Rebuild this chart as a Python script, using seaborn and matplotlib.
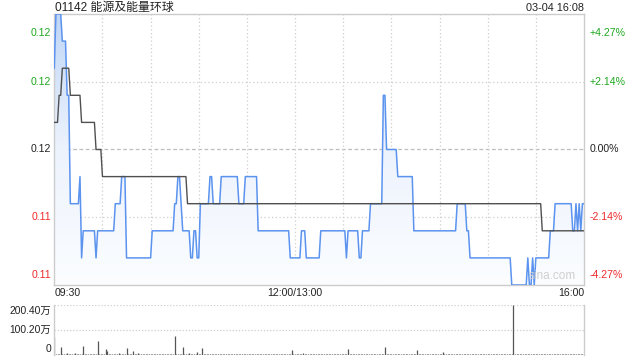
import numpy as np
import pandas as pd
import matplotlib
matplotlib.use("Agg")
import matplotlib.pyplot as plt
from matplotlib.colors import LinearSegmentedColormap
import seaborn as sns

# ---------------- data ----------------
title = "01142 能源及能量环球"
stamp = "03-04 16:08"
prev_close = 0.117
price_ticks = [0.122, 0.1195, 0.117, 0.1145, 0.112]
price_labels = ["0.12", "0.12", "0.12", "0.11", "0.11"]
pct_labels = ["+4.27%", "+2.14%", "0.00%", "-2.14%", "-4.27%"]
time_labels = ["09:30", "12:00/13:00", "16:00"]
time_label_pos = [0, 150, 330]

# last price per minute, run-length form: (price, number of minutes)
price_levels = [0.120, 0.122, 0.121, 0.119, 0.115, 0.116, 0.113, 0.114, 0.113, 0.114,
                0.115, 0.116, 0.113, 0.114, 0.115, 0.116, 0.115, 0.114, 0.113, 0.114,
                0.113, 0.115, 0.116, 0.115, 0.116, 0.115, 0.116, 0.114, 0.113, 0.114,
                0.113, 0.114, 0.113, 0.114, 0.113, 0.114, 0.115, 0.119, 0.117, 0.116,
                0.114, 0.115, 0.114, 0.113, 0.112, 0.113, 0.112, 0.113, 0.112, 0.113,
                0.114, 0.115, 0.114, 0.115, 0.114, 0.115, 0.114, 0.115]
price_runs = [1, 4, 3, 2, 6, 1, 1, 8, 1, 11,
              4, 3, 16, 14, 2, 2, 1, 5, 2, 2,
              2, 6, 2, 5, 11, 4, 8, 20, 7, 3,
              9, 16, 1, 7, 2, 5, 8, 2, 7, 10,
              27, 6, 2, 26, 10, 1, 2, 1, 1, 9,
              3, 11, 2, 1, 1, 1, 1, 2]

# average price per minute, run-length form
avg_levels = [0.118, 0.119, 0.120, 0.119, 0.118, 0.117, 0.116, 0.115, 0.114]
avg_runs = [3, 2, 5, 7, 9, 4, 53, 221, 27]

# volume per minute (万股)
volume = [73, 5, 4, 6, 33, 4, 5, 4, 9, 5,
          4, 5, 4, 7, 5, 4, 3, 5, 37, 6,
          5, 4, 5, 4, 6, 5, 4, 57, 5, 6,
          4, 5, 23, 18, 6, 5, 4, 5, 4, 5,
          8, 4, 5, 4, 6, 28, 5, 4, 5, 17,
          5, 4, 8, 5, 4, 3, 5, 4, 5, 4,
          4, 5, 4, 3, 4, 5, 4, 4, 3, 5,
          4, 5, 4, 6, 5, 78, 5, 4, 6, 5,
          33, 5, 4, 6, 10, 5, 4, 5, 6, 12,
          5, 4, 29, 5, 4, 5, 4, 3, 4, 4,
          4, 3, 4, 4, 3, 4, 4, 3, 4, 3,
          4, 4, 3, 4, 3, 4, 4, 3, 4, 4,
          3, 4, 4, 3, 4, 4, 3, 4, 4, 3,
          4, 3, 4, 4, 3, 4, 4, 3, 4, 4,
          3, 4, 4, 3, 4, 5, 4, 4, 20, 4,
          3, 4, 4, 3, 4, 8, 4, 3, 4, 4,
          4, 3, 4, 4, 3, 4, 4, 3, 4, 4,
          3, 4, 4, 3, 4, 4, 3, 4, 4, 3,
          4, 4, 3, 23, 4, 3, 4, 4, 3, 4,
          4, 3, 4, 4, 3, 4, 4, 3, 4, 4,
          3, 4, 4, 3, 4, 5, 33, 4, 4, 3,
          4, 4, 3, 4, 4, 3, 4, 4, 3, 4,
          4, 3, 4, 4, 3, 4, 20, 4, 3, 4,
          4, 3, 4, 4, 3, 4, 4, 3, 4, 4,
          3, 4, 12, 4, 3, 4, 4, 3, 4, 4,
          3, 4, 4, 3, 4, 4, 3, 4, 4, 3,
          4, 4, 3, 4, 4, 3, 4, 4, 3, 4,
          4, 3, 4, 4, 3, 4, 4, 3, 4, 4,
          3, 4, 4, 3, 4, 4, 200.4, 4, 3, 4,
          4, 3, 4, 4, 3, 4, 4, 3, 4, 4,
          3, 4, 4, 3, 4, 4, 3, 4, 4, 3,
          4, 4, 3, 4, 4, 3, 4, 4, 3, 4,
          4, 3, 4, 4, 3, 4, 4, 3, 4, 4,
          5]
vol_ticks = [200.4, 100.2, 0]
vol_labels = ["200.40万", "100.20万", "0"]

# ---------------- build ----------------
price = np.repeat(price_levels, price_runs)
avg = np.repeat(avg_levels, avg_runs)
n = len(price)
minutes = np.arange(n)
df = pd.DataFrame({"minute": minutes, "price": price, "avg": avg[:n]})
vol = np.array(volume[:n], dtype=float)

sns.set_theme(style="white")
plt.rcParams["font.family"] = ["Liberation Sans", "Noto Sans CJK SC", "DejaVu Sans"]

GREEN = "#1fa81f"
RED = "#ee2a2a"
DARK = "#222222"
GRID = "#cfcfcf"
BLUE = "#5b93ef"

W, H = 640, 360
fig = plt.figure(figsize=(6.4, 3.6), dpi=100)
fig.patch.set_facecolor("white")
L, R = 54.3, 584.0
ax = fig.add_axes([L / W, 1 - 285 / H, (R - L) / W, (285 - 14) / H])
axv = fig.add_axes([L / W, 1 - 355 / H, (R - L) / W, 50 / H])

ymin, ymax = 0.112, 0.122
xmax = 330

# gradient fill under the price line
poly = ax.fill_between(df["minute"], df["price"], ymin, color="none", lw=0)
cmap = LinearSegmentedColormap.from_list("g", ["#fbfdff", "#edf3fd", "#c0d6f7"])
grad = np.linspace(0, 1, 256).reshape(-1, 1)
im = ax.imshow(grad, extent=[0, xmax, ymin, ymax], origin="lower", aspect="auto",
               cmap=cmap, zorder=1, interpolation="bilinear")
im.set_clip_path(poly.get_paths()[0], transform=ax.transData)

# grid
for t in price_ticks[1:-1]:
    ls = (0, (3, 2)) if t == prev_close else (0, (1, 2))
    col = "#bdbdbd" if t == prev_close else GRID
    ax.axhline(t, color=col, lw=0.9, ls=ls, zorder=0.5)
for m in range(30, 330, 30):
    ax.axvline(m, color=GRID, lw=0.9, ls=(0, (1, 2)), zorder=0.5)

sns.lineplot(data=df, x="minute", y="price", ax=ax, color=BLUE, lw=1.1,
             legend=False, zorder=3, estimator=None)
sns.lineplot(data=df, x="minute", y="avg", ax=ax, color="#505050", lw=1.0,
             legend=False, zorder=4, estimator=None)

ax.set_xlim(0, xmax)
ax.set_ylim(ymin, ymax)
ax.set_xticks([]); ax.set_yticks([])
ax.set_xlabel(""); ax.set_ylabel("")
for s in ax.spines.values():
    s.set_color("#cccccc"); s.set_linewidth(1.0); s.set_visible(True)

ytr = ax.get_yaxis_transform()
fs = 7.6
for i, (t, lab, pl) in enumerate(zip(price_ticks, price_labels, pct_labels)):
    va = "top" if i == 0 else ("bottom" if i == len(price_ticks) - 1 else "center")
    off = -0.0005 if i == 0 else (0.0002 if i == len(price_ticks) - 1 else 0)
    col = GREEN if t > prev_close else (RED if t < prev_close else DARK)
    ax.text(-0.006, t + off, lab, transform=ytr, ha="right", va=va, color=col, fontsize=fs)
    ax.text(1.011, t + off, pl, transform=ytr, ha="left", va=va, color=col, fontsize=fs)

xtr = ax.get_xaxis_transform()
for pos, lab in zip(time_label_pos, time_labels):
    ha = "left" if pos == 0 else ("right" if pos == xmax else "center")
    ax.text(pos, -0.03, lab, transform=xtr, ha=ha, va="center", color=DARK, fontsize=fs)

ax.text(0.002, 1.011, title, transform=ax.transAxes, ha="left", va="baseline",
        color=DARK, fontsize=8.6)
ax.text(1.0, 1.011, stamp, transform=ax.transAxes, ha="right", va="baseline",
        color=DARK, fontsize=7.8)
ax.text(0.985, 0.012, "sina.com", transform=ax.transAxes, ha="right", va="bottom",
        color="#cfcfcf", fontsize=8.5, zorder=5)

# volume panel
axv.vlines(minutes, 0, vol, color="#555555", lw=0.9)
axv.axhline(100.2, color=GRID, lw=0.9, ls=(0, (1, 1.5)))
axv.axhline(200.4, color=GRID, lw=0.9, ls=(0, (1, 1.5)))
axv.set_xlim(0, xmax)
axv.set_ylim(0, 200.4)
axv.set_xticks([]); axv.set_yticks([])
for k, s in axv.spines.items():
    s.set_color("#cccccc"); s.set_linewidth(1.0)
axv.spines["top"].set_visible(False)
axv.spines["bottom"].set_visible(False)
vtr = axv.get_yaxis_transform()
for i, (t, lab) in enumerate(zip(vol_ticks, vol_labels)):
    va = "top" if i == 0 else ("bottom" if i == len(vol_ticks) - 1 else "center")
    off = -3 if i == 0 else (6 if i == len(vol_ticks) - 1 else 0)
    axv.text(-0.006, t + off, lab, transform=vtr, ha="right", va=va, color=DARK, fontsize=7.4)

fig.savefig("out.png", dpi=100)
